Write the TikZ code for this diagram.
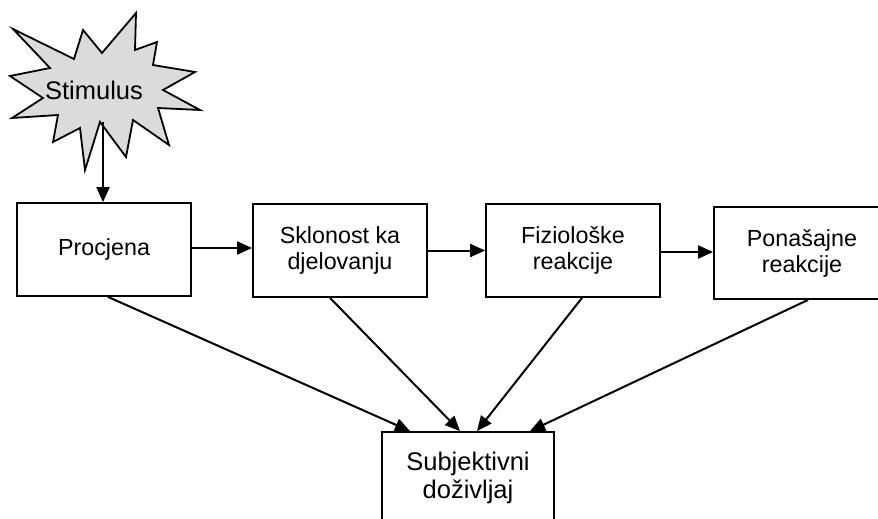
\documentclass[tikz,border=0pt]{standalone}
\usepackage{fontspec}
\setmainfont{Liberation Sans}
\usetikzlibrary{arrows.meta}
\begin{document}
\begin{tikzpicture}[x=1pt,y=-1pt,
  box/.style={draw=black,line width=1.8pt,fill=white,rectangle,align=center,inner sep=0pt,
    font=\fontsize{23.3}{26}\selectfont},
  arr/.style={line width=2pt,-{Triangle[length=15pt,width=13pt]}},
  starshape/.style={draw=black,line width=1.8pt,fill=black!14,line join=miter}]
\useasboundingbox (0,0) rectangle (878,519);
% star
\draw[starshape] (13,29) -- (74,59) -- (83,30) -- (102,53) -- (136,13) -- (135,50) -- (157,42) -- (153,65) -- (195,72) -- (163,90) -- (200,110) -- (158,108) -- (169,145) -- (133,120) -- (126,157) -- (100,122) -- (85,170) -- (80,128) -- (53,142) -- (58,115) -- (12,118) -- (43,98) -- (10,76) -- (50,68) -- cycle;
\node[font=\fontsize{25.5}{28}\selectfont] (stim) at (94,90) {Stimulus};
\coordinate (starbot) at (103,122);
% boxes
\node[box,minimum width=174pt,minimum height=93pt] (proc) at (104,249.5) {Procjena};
\node[box,minimum width=174pt,minimum height=93pt] (skl) at (340,250.5) {Sklonost ka\\djelovanju};
\node[box,minimum width=174pt,minimum height=93pt] (fiz) at (573,250.5) {Fiziološke\\reakcije};
\node[box,minimum width=176pt,minimum height=92pt] (pon) at (802,253) {Ponašajne\\reakcije};
\node[box,minimum width=172pt,minimum height=92pt,font=\fontsize{25.5}{28}\selectfont] (subj) at (468,478) {Subjektivni\\doživljaj};
% connectors
\draw[arr] (starbot) -- (starbot |- proc.north);
\draw[arr] ([yshift=1.5pt]proc.east) -- ([yshift=1.5pt]proc.east -| skl.west);
\draw[arr] (skl.east) -- (skl.east -| fiz.west);
\draw[arr] ([yshift=-1.5pt]fiz.east) -- ([yshift=-1.5pt]fiz.east -| pon.west);
\draw[arr] ([xshift=4pt]proc.south) -- ([xshift=-58pt]subj.north);
\draw[arr] ([xshift=-10pt]skl.south) -- ([xshift=-8pt]subj.north);
\draw[arr] ([xshift=9pt]fiz.south) -- ([xshift=9pt]subj.north);
\draw[arr] ([xshift=6pt]pon.south) -- ([xshift=62pt]subj.north);
\end{tikzpicture}
\end{document}
